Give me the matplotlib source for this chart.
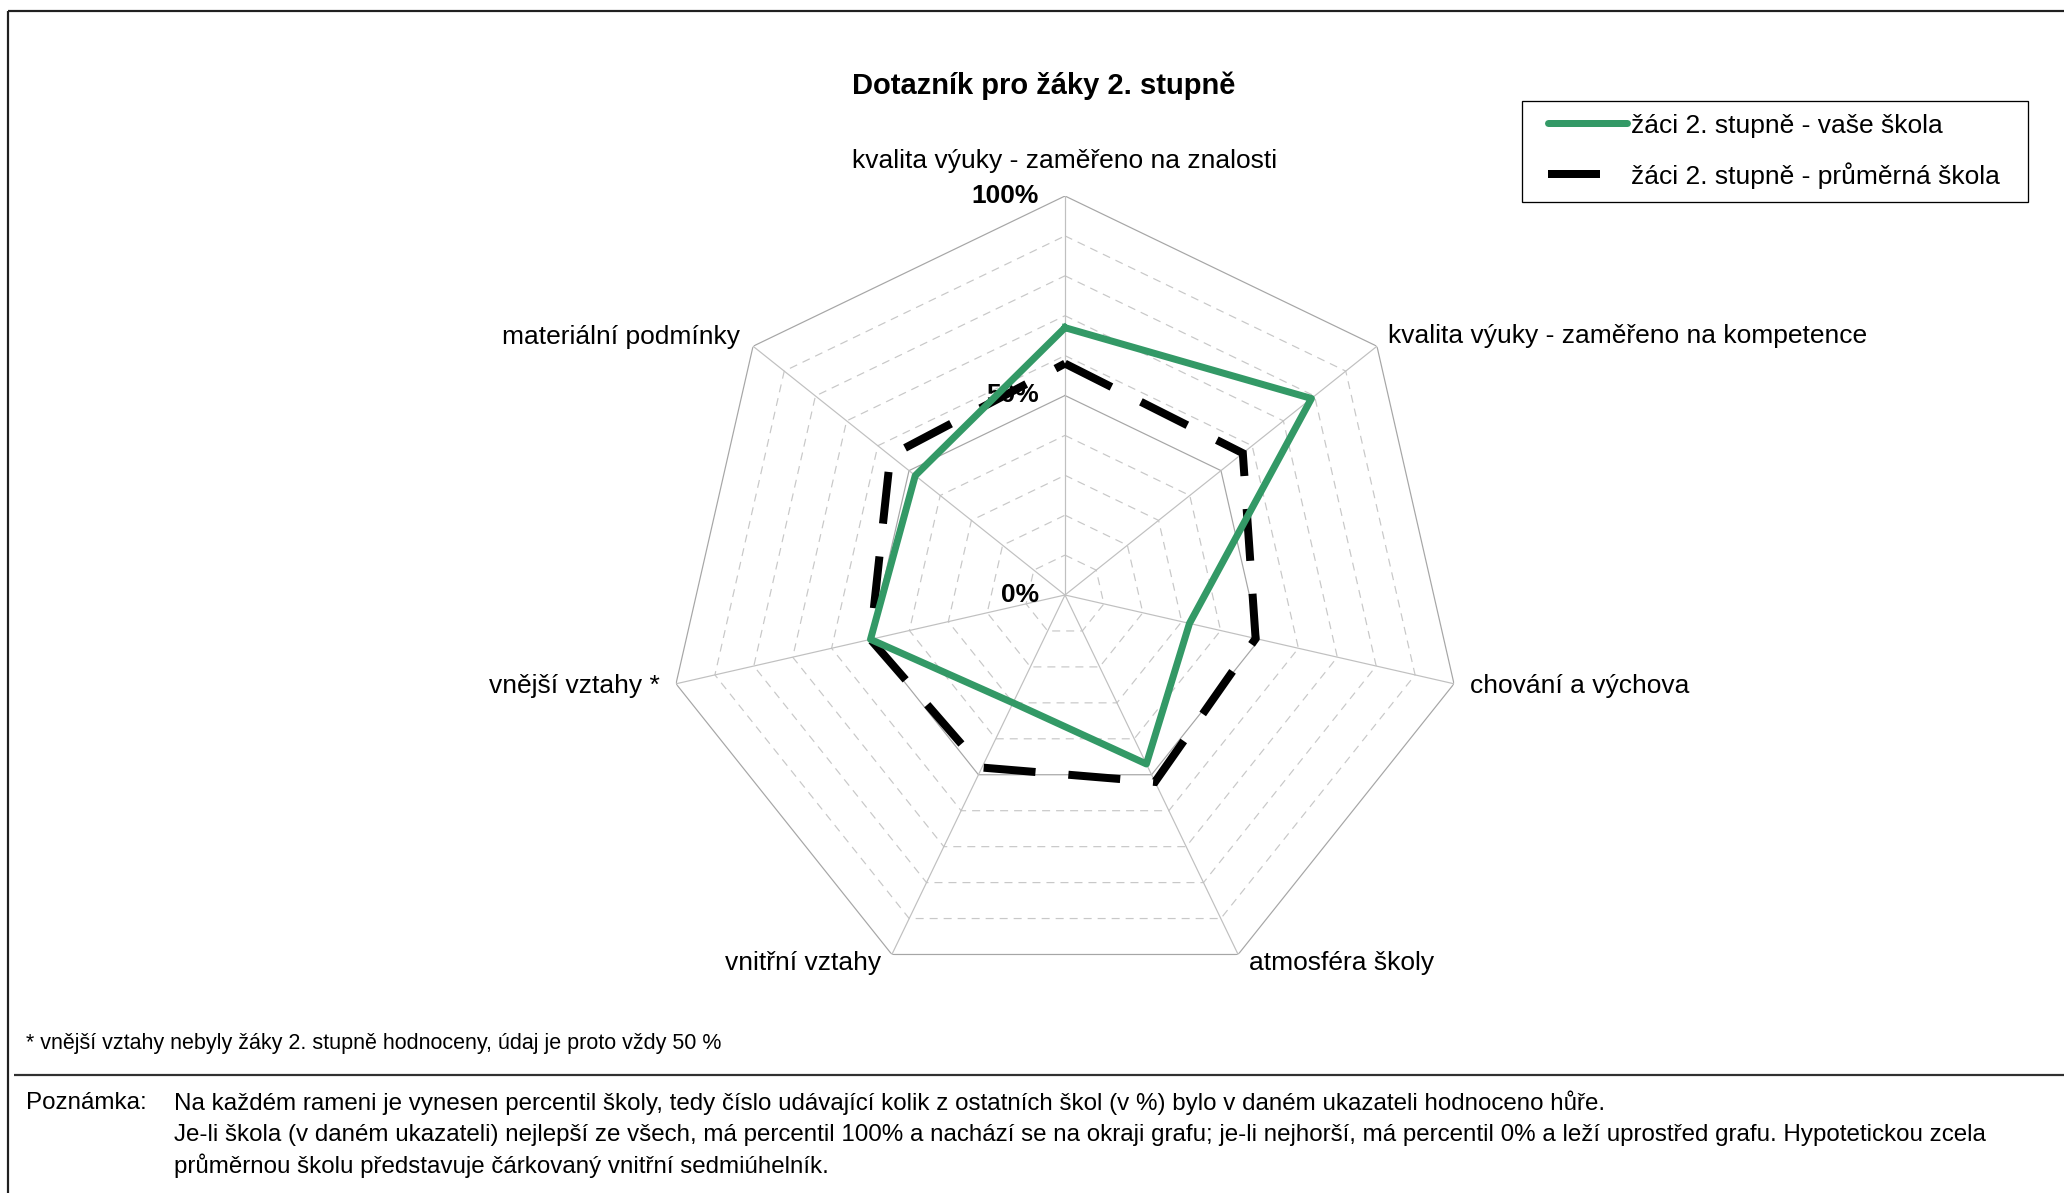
import numpy as np
import matplotlib
matplotlib.use("Agg")
import matplotlib.pyplot as plt
from matplotlib.patches import Rectangle

plt.rcParams['font.family'] = ['Liberation Sans', 'DejaVu Sans']

# ---------------- data ----------------
categories = [
    "kvalita výuky - zaměřeno na znalosti",
    "kvalita výuky - zaměřeno na kompetence",
    "chování a výchova",
    "atmosféra školy",
    "vnitřní vztahy",
    "vnější vztahy *",
    "materiální podmínky",
]
vase_skola = [67, 79, 32, 47, 30, 50, 48]
prumerna_skola = [58, 57, 49, 52, 48, 50, 56]
series_names = ["žáci 2. stupně - vaše škola", "žáci 2. stupně - průměrná škola"]
radial_ticks = [0, 50, 100]
radial_tick_labels = ["0%", "50%", "100%"]

title = "Dotazník pro žáky 2. stupně"
footnote = "* vnější vztahy nebyly žáky 2. stupně hodnoceny, údaj je proto vždy 50 %"
note_head = "Poznámka:"
note_lines = [
    "Na každém rameni je vynesen percentil školy, tedy číslo udávající kolik z ostatních škol (v %) bylo v daném ukazateli hodnoceno hůře.",
    "Je-li škola (v daném ukazateli) nejlepší ze všech, má percentil 100% a nachází se na okraji grafu; je-li nejhorší, má percentil 0% a leží uprostřed grafu. Hypotetickou zcela",
    "průměrnou školu představuje čárkovaný vnitřní sedmiúhelník.",
]

# ---------------- styles ----------------
GREEN = '#339966'
W, H = 2064, 1193
DPI = 100
PX = 72.0 / DPI  # points per pixel

fig = plt.figure(figsize=(W / DPI, H / DPI), dpi=DPI)
fig.patch.set_facecolor('white')

# overlay axes in pixel coordinates for decorations
ov = fig.add_axes([0, 0, 1, 1], zorder=0)
ov.set_xlim(0, W)
ov.set_ylim(H, 0)
ov.axis('off')
ov.patch.set_alpha(0)

# polar (radar) axes
cx, cy, R = 1065, 595, 399
ax = fig.add_axes([(cx - R) / W, 1 - (cy + R) / H, 2 * R / W, 2 * R / H],
                  projection='polar', zorder=1)
ax.patch.set_alpha(0)
ax.set_theta_zero_location('N')
ax.set_theta_direction(-1)
ax.set_ylim(0, 100)
ax.set_xticks([])
ax.set_yticks([])
ax.grid(False)
ax.spines['polar'].set_visible(False)

n = len(categories)
angles = [2 * np.pi * i / n for i in range(n)]
ang_c = angles + angles[:1]

# rings
for r in range(10, 101, 10):
    if r in (50, 100):
        ax.plot(ang_c, [r] * (n + 1), color='#a6a6a6', lw=1.2 * PX, zorder=1)
    else:
        ax.plot(ang_c, [r] * (n + 1), color='#c8c8c8', lw=1.2 * PX,
                dashes=(8 / 1.2, 6 / 1.2), zorder=1)
# spokes
for a in angles:
    ax.plot([a, a], [0, 100], color='#c0c0c0', lw=1.2 * PX, zorder=1)

# radial tick labels
for v, lab in zip(radial_ticks, radial_tick_labels):
    ax.annotate(lab, xy=(0, v), xytext=(-26 * PX, 0), textcoords='offset points',
                ha='right', va='center', fontsize=19, fontweight='bold', zorder=2)

# series
lw_green = 7 * PX
lw_black = 8 * PX
dash_black = (52 / 8, 33 / 8)
ax.plot(ang_c, prumerna_skola + prumerna_skola[:1], color='black', lw=lw_black,
        dashes=dash_black, dash_joinstyle='miter', zorder=4)
ax.plot(ang_c, vase_skola + vase_skola[:1], color=GREEN, lw=lw_green,
        solid_joinstyle='round', zorder=5)

# category labels (offsets in pixels)
label_offsets = [(0, 35, 'center'), (11, 10, 'left'), (16, -2, 'left'), (11, -9, 'left'),
                 (-11, -9, 'right'), (-16, -2, 'right'), (-13, 9, 'right')]
for a, cat, (dx, dy, ha) in zip(angles, categories, label_offsets):
    ax.annotate(cat, xy=(a, 100), xytext=(dx * PX, dy * PX), textcoords='offset points',
                ha=ha, va='center', fontsize=19, annotation_clip=False)

# title
ov.text(1044, 86, title, ha='center', va='center', fontsize=21, fontweight='bold')

# legend (manual)
ov.add_patch(Rectangle((1522, 101), 506, 101, fill=False, edgecolor='black', lw=1.3 * PX))
ov.plot([1548, 1627], [123, 123], color=GREEN, lw=lw_green, solid_capstyle='round')
ov.plot([1548, 1627], [174, 174], color='black', lw=lw_black, dashes=dash_black,
        dash_capstyle='butt')
ov.text(1631, 126, series_names[0], ha='left', va='center', fontsize=19)
ov.text(1631, 176, series_names[1], ha='left', va='center', fontsize=19)

# frame lines
ov.plot([7.5, W], [11, 11], color='#202020', lw=2.2 * PX, solid_capstyle='butt')
ov.plot([7.5, 7.5], [11, H], color='#202020', lw=2.2 * PX, solid_capstyle='butt')
ov.plot([14, W], [1075, 1075], color='#303030', lw=2.2 * PX, solid_capstyle='butt')

# footnote and note
ov.text(26, 1044, footnote, ha='left', va='center', fontsize=15.5)
ov.text(26, 1103, note_head, ha='left', va='center', fontsize=17.4)
for y, line in zip([1103, 1135, 1166], note_lines):
    ov.text(174, y, line, ha='left', va='center', fontsize=17.4)

fig.savefig('out.png', dpi=DPI, facecolor='white')
